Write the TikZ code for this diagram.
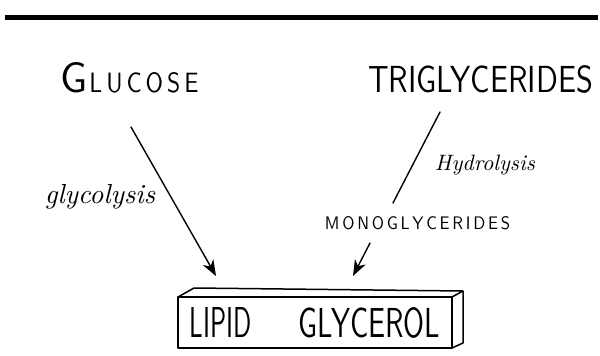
\documentclass[tikz,border=0pt]{standalone}
\usepackage{fontspec}
\usepackage{graphicx}
\usetikzlibrary{arrows.meta,calc}
\begin{document}
\begin{tikzpicture}[x=1pt,y=-1pt,
  lbl/.style={inner sep=0pt,outer sep=0pt,font=\sffamily},
  cur/.style={inner sep=0pt,outer sep=0pt,font=\itshape},
  conn/.style={line width=1.4pt,line cap=round},
  arr/.style={conn,-{Stealth[length=16pt,width=12pt,inset=5pt,line width=1pt]}},
  boxline/.style={line width=1.5pt,line join=round}]
\useasboundingbox (0,0) rectangle (600,356);
% top rule
\draw[line width=4.5pt] (5,17.5) -- (598,17.5);
% texts
\node[lbl] (glucose) at (129.5,78) {\resizebox{27pt}{30pt}{G}\hspace{2pt}\resizebox{109pt}{20pt}{L\,U\,C\,O\,S\,E}};
\node[lbl] (trig) at (480.5,79) {\resizebox{225pt}{27pt}{TRIGLYCERIDES}};
\node[cur] (glyc) at (100,197) {\resizebox{110pt}{!}{glycolysis}};
\node[cur] (hydro) at (485,165.5) {\resizebox{100pt}{!}{Hydrolysis}};
\node[lbl] (mono) at (417.5,223.5) {\resizebox{185pt}{13pt}{M\,O\,N\,O\,G\,L\,Y\,C\,E\,R\,I\,D\,E\,S}};
% box
\node[lbl,draw,boxline,minimum width=274pt,minimum height=51pt] (box) at (315,322.5)
  {\resizebox{62pt}{30pt}{LIPID}\hspace{47pt}\resizebox{141pt}{30pt}{GLYCEROL}};
\draw[boxline] (box.north west) -- ++(16,-9) coordinate (btl)
  -- ($(box.north east)+(11,-6)$) coordinate (btr) -- (box.north east);
\draw[boxline] (btr) -- ($(box.south east)+(11,-5)$) -- (box.south east);
% connectors
\coordinate (g1) at (131,127);
\coordinate (g2) at (216,276);
\coordinate (t1) at (440,112);
\coordinate (t2) at (393,203);
\coordinate (m1) at (370,243);
\coordinate (m2) at (353,276);
\draw[arr] (g1) -- (g2);
\draw[conn] (t1) -- (t2);
\draw[arr] (m1) -- (m2);
\end{tikzpicture}
\end{document}
